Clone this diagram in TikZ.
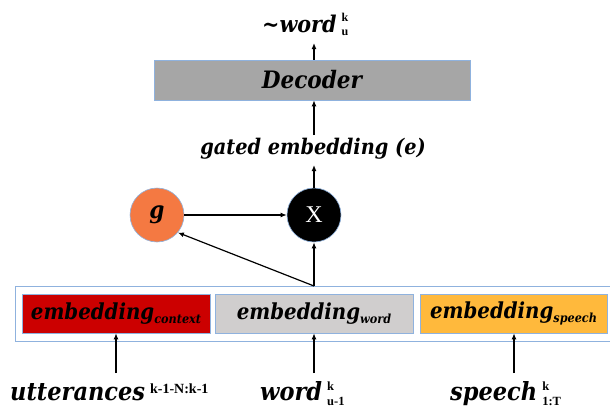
\documentclass[tikz,border=0pt]{standalone}
\usepackage{fontspec}
\setmainfont{DejaVu Serif Condensed}
\newfontfamily\supfont{Liberation Serif}
\usetikzlibrary{arrows.meta}
\definecolor{decgray}{RGB}{166,166,166}
\definecolor{wordgray}{RGB}{208,206,206}
\definecolor{ctxred}{RGB}{204,0,0}
\definecolor{spchorange}{RGB}{255,185,60}
\definecolor{gorange}{RGB}{244,121,66}
\definecolor{edgeblue}{RGB}{143,178,222}
\newcommand\supf[1]{\supfont\bfseries\upshape\fontsize{#1}{#1}\selectfont}
% #1 size, #2 raise, #3 lower, #4 sup, #5 sub
\newcommand\supsubx[5]{\hspace{5pt}\makebox[0pt][l]{\raisebox{#2}{\supf{#1}#4}}\raisebox{-#3}{\supf{#1}#5}}
\newcommand\subx[1]{\raisebox{-4pt}{\fontsize{12.5}{12.5}\selectfont #1}}
\begin{document}
\begin{tikzpicture}[x=1pt,y=-1pt,
  lbl/.style={font=\bfseries\itshape\fontsize{25}{30}\selectfont, inner sep=1pt},
  arr/.style={-{Latex[length=6pt,width=5pt]}, line width=1.2pt},
  embbox/.style={draw=edgeblue, line width=0.6pt, minimum height=39pt, inner sep=0pt,
    font=\bfseries\itshape\fontsize{22}{26}\selectfont},
  circ/.style={circle, draw=edgeblue, line width=0.6pt, minimum size=54pt, inner sep=0pt}]
\useasboundingbox (0,0) rectangle (610,407);
% top output
\node[lbl, anchor=base west, font=\bfseries\itshape\fontsize{23}{28}\selectfont] (out) at (261,32) {\textasciitilde word\supsubx{12}{11pt}{3pt}{k}{u}};
\node[embbox, fill=decgray, minimum width=316pt, minimum height=40pt, font=\bfseries\itshape\fontsize{24}{28}\selectfont] (dec) at (312,80) {Decoder};
\node[lbl, anchor=base, font=\bfseries\itshape\fontsize{21.5}{26}\selectfont] (gated) at (313,154) {gated embedding (e)};
\node[circ, fill=gorange, font=\bfseries\itshape\fontsize{24}{28}\selectfont] (g) at (157,215) {g};
\node[circ, fill=black, text=white, font=\supfont\fontsize{24}{28}\selectfont] (x) at (314,215) {X};
% outer box
\node[draw=edgeblue, line width=0.8pt, minimum width=598pt, minimum height=55pt, inner sep=0pt] (outer) at (314,313.5) {};
\coordinate (j) at (314,286);
% embeddings
\node[embbox, fill=ctxred, minimum width=188pt] (ctx) at (116,313.5) {embedding\subx{context}};
\node[embbox, fill=wordgray, minimum width=198pt] (wrd) at (314,313.5) {embedding\subx{word}};
\node[embbox, fill=spchorange, minimum width=187pt] (sp) at (513.5,313.5) {embedding\subx{speech}};
% bottom labels
\node[lbl, anchor=base west] (utt) at (9,400) {utterances\hspace{5pt}\raisebox{7pt}{\supf{14}k-1-N:k-1}};
\node[lbl, anchor=base west] (wi) at (259,400) {word\supsubx{12.5}{10pt}{5pt}{k}{u-1}};
\node[lbl, anchor=base west] (si) at (449,400) {speech\supsubx{12.5}{10pt}{5pt}{k}{1:T}};
\coordinate (a1) at (116,373);
\coordinate (a2) at (314,373);
\coordinate (a3) at (514,373);
% arrows
\draw[arr] (a1) -- (ctx.south -| a1);
\draw[arr] (a2) -- (wrd.south -| a2);
\draw[arr] (a3) -- (sp.south -| a3);
\draw[arr] (j) -- (x.south);
\draw[arr] (j) -- (g.-40);
\draw[arr] (g) -- (x);
\draw[arr] (x.north) -- (314,165);
\draw[arr] (314,135) -- (dec.south -| 314,0);
\draw[arr] (dec.north -| 314,0) -- (314,43);
\end{tikzpicture}
\end{document}
